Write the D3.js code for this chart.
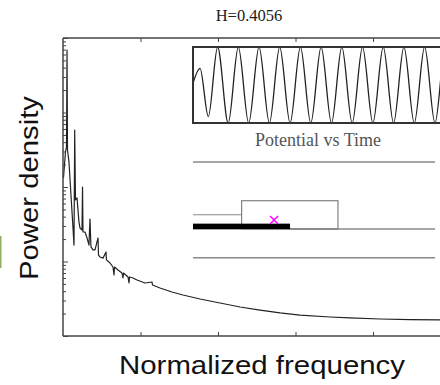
<!DOCTYPE html>
<html>
<head>
<meta charset="utf-8">
<script src="https://cdn.jsdelivr.net/npm/d3@7/dist/d3.min.js"></script>
<style>
  html, body { margin: 0; padding: 0; background: #fff; }
  svg { display: block; }
</style>
</head>
<body>
<svg id="chart" width="440" height="385"></svg>
<script>
// ---------- data ----------
const title = "H=0.4056";
const xLabel = "Normalized frequency";
const yLabel = "Power density";
const insetLabel = "Potential vs Time";

// power spectrum (normalized frequency, power density)
const freq = [0.0006, 0.0019, 0.0032, 0.0045, 0.0052, 0.0058, 0.0077, 0.0103, 0.0129, 0.0142,
  0.0151, 0.0161, 0.0181, 0.0206, 0.0219, 0.0245, 0.0252, 0.0258, 0.0284, 0.0310,
  0.0335, 0.0348, 0.0361, 0.0387, 0.0413, 0.0452, 0.0458, 0.0477, 0.0516, 0.0555,
  0.0561, 0.0606, 0.0645, 0.0658, 0.0665, 0.0710, 0.0761, 0.0774, 0.0781, 0.0839,
  0.0852, 0.0858, 0.0903, 0.0955, 0.1058, 0.1148, 0.1155, 0.1252, 0.1406, 0.1548,
  0.1768, 0.2026, 0.2284, 0.2542, 0.2800, 0.3058, 0.3445, 0.3703, 0.4090, 0.4477, 0.4994];
const power = [0.0132, 0.0197, 0.0295, 0.0344, 0.690, 0.0314, 0.0217, 0.00781, 0.00282, 0.00166,
  0.0582, 0.00670, 0.00712, 0.00339, 0.00282, 0.00265, 0.0100, 0.00249, 0.00249, 0.00207,
  0.00166, 0.00372, 0.00157, 0.00143, 0.00143, 0.00207, 0.00122, 0.00115, 0.00111, 0.00134,
  0.00105, 0.000955, 0.000844, 0.000659, 0.000844, 0.000769, 0.000701, 0.000601, 0.000701, 0.000620,
  0.000515, 0.000620, 0.000601, 0.000565, 0.000515, 0.000531, 0.000484, 0.000441, 0.000390, 0.000355,
  0.000314, 0.000277, 0.000245, 0.000223, 0.000204, 0.000191, 0.000180, 0.000175, 0.000169, 0.000166, 0.000164];

const xTicks = [0.1, 0.2, 0.3, 0.4, 0.5];

// inset: potential vs time (extrema)
const potTime = [0, 0.34, 0.74, 1.19, 1.70, 2.19, 2.69, 3.19, 3.69, 4.19, 4.69, 5.19, 5.69,
  6.19, 6.69, 7.19, 7.69, 8.19, 8.69, 9.19, 9.69, 10.19, 10.69, 11.19, 11.69, 12.19, 12.69, 13.19];
const potValue = [0.05, 0.44, -0.83, 1, -1, 1, -1, 1, -1, 1, -1, 1, -1,
  1, -1, 1, -1, 1, -1, 1, -1, 1, -1, 1, -1, 1, -1, 1];

// inset: schematic (levels and bars)
const guideLevels = [1.0, 0.0, -0.43];
const stepLevel = 0.213;
const boxSpan = [0.201, 0.599];
const boxTop = 0.422;
const barSpan = [0, 0.401];
const barHeight = 0.08;
const markerPos = [0.335, 0.134];

// ---------- layout ----------
const svg = d3.select("#chart");
const X0 = 63, X1 = 450.5, Y0 = 38, Y1 = 336;

const x = d3.scaleLinear().domain([0, 0.5]).range([X0, X1]);
const y = d3.scaleLog().domain([1e-4, 1]).range([Y1, Y0]);

svg.append("defs").append("clipPath").attr("id", "plotclip")
  .append("rect").attr("x", X0).attr("y", Y0).attr("width", X1 - X0).attr("height", Y1 - Y0);

// spectrum line
const pts = freq.map((f, i) => [f, power[i]]);
svg.append("path")
  .datum(pts)
  .attr("clip-path", "url(#plotclip)")
  .attr("fill", "none")
  .attr("stroke", "#222")
  .attr("stroke-width", 1.2)
  .attr("stroke-linejoin", "round")
  .attr("d", d3.line().x(d => x(d[0])).y(d => y(d[1])));

// axes (ticks inward, no labels)
const axisColor = "#444";
const gB = svg.append("g").attr("transform", `translate(0,${Y1})`)
  .call(d3.axisBottom(x).tickValues(xTicks).tickSize(-4).tickFormat(""));
const gT = svg.append("g").attr("transform", `translate(0,${Y0})`)
  .call(d3.axisTop(x).tickValues(xTicks).tickSize(-4).tickFormat(""));
const yTicksAll = y.ticks();
const gL = svg.append("g").attr("transform", `translate(${X0},0)`)
  .call(d3.axisLeft(y).tickValues(yTicksAll).tickSize(-3).tickFormat(""));
gL.selectAll(".tick line")
  .attr("x2", d => Math.abs(Math.log10(d) - Math.round(Math.log10(d))) < 1e-9 ? 5 : 3);
[gB, gT, gL].forEach(g => {
  g.selectAll(".domain").attr("stroke", axisColor).attr("stroke-width", 1.5);
  g.selectAll(".tick line").attr("stroke", axisColor).attr("stroke-width", 1);
});
gB.select(".domain").attr("d", `M${X0},0H${X1}`);
gT.select(".domain").attr("d", `M${X0},0H${X1}`);
gL.select(".domain").attr("d", `M0,${Y0}V${Y1}`);

// title
svg.append("text").attr("x", 249).attr("y", 21)
  .attr("text-anchor", "middle")
  .attr("font-family", "'Liberation Serif', 'Times New Roman', serif")
  .attr("font-size", 16.5).attr("fill", "#222").text(title);

// axis labels
svg.append("text").attr("x", 262).attr("y", 374)
  .attr("text-anchor", "middle")
  .attr("font-family", "'Liberation Sans', Arial, sans-serif")
  .attr("font-size", 26).attr("fill", "#111")
  .attr("textLength", 286).attr("lengthAdjust", "spacingAndGlyphs")
  .text(xLabel);
svg.append("text")
  .attr("transform", "translate(38,188) rotate(-90)")
  .attr("text-anchor", "middle")
  .attr("font-family", "'Liberation Sans', Arial, sans-serif")
  .attr("font-size", 26).attr("fill", "#111")
  .attr("textLength", 184).attr("lengthAdjust", "spacingAndGlyphs")
  .text(yLabel);

// green edge fragment at far left
svg.append("rect").attr("x", 0).attr("y", 236).attr("width", 1.5).attr("height", 32).attr("fill", "#8fae62");

// ---------- inset: potential vs time ----------
const IX0 = 193, IX1 = 456, IY0 = 47, IY1 = 123;
const tx = d3.scaleLinear().domain([0, 12.7]).range([IX0, IX0 + 12.7 * 20.7]);
const ty = d3.scaleLinear().domain([-1, 1]).range([IY1, IY0]);
svg.append("defs").append("clipPath").attr("id", "insetclip")
  .append("rect").attr("x", IX0).attr("y", IY0).attr("width", IX1 - IX0).attr("height", IY1 - IY0);
svg.append("path")
  .datum(potTime.map((t, i) => [t, potValue[i]]))
  .attr("clip-path", "url(#insetclip)")
  .attr("fill", "none").attr("stroke", "#222").attr("stroke-width", 1.3)
  .attr("d", d3.line().curve(d3.curveMonotoneX).x(d => tx(d[0])).y(d => ty(d[1])));
svg.append("rect").attr("x", IX0).attr("y", IY0).attr("width", IX1 - IX0).attr("height", IY1 - IY0)
  .attr("fill", "none").attr("stroke", "#333").attr("stroke-width", 2);
svg.append("text").attr("x", 318).attr("y", 146)
  .attr("text-anchor", "middle")
  .attr("font-family", "'Liberation Serif', 'Times New Roman', serif")
  .attr("font-size", 18).attr("fill", "#555").text(insetLabel);

// ---------- inset: schematic ----------
const sx = d3.scaleLinear().domain([0, 1]).range([193, 435]);
const sy = d3.scaleLinear().domain([0, 1]).range([229, 162]);
svg.selectAll("line.guide").data(guideLevels).enter().append("line")
  .attr("class", "guide")
  .attr("x1", sx(0)).attr("x2", sx(1))
  .attr("y1", d => sy(d)).attr("y2", d => sy(d))
  .attr("stroke", "#888").attr("stroke-width", 1.4);
svg.append("line")
  .attr("x1", sx(0)).attr("x2", sx(boxSpan[0]))
  .attr("y1", sy(stepLevel)).attr("y2", sy(stepLevel))
  .attr("stroke", "#888").attr("stroke-width", 1.2);
svg.append("rect")
  .attr("x", sx(boxSpan[0])).attr("y", sy(boxTop))
  .attr("width", sx(boxSpan[1]) - sx(boxSpan[0])).attr("height", sy(0) - sy(boxTop))
  .attr("fill", "none").attr("stroke", "#777").attr("stroke-width", 1.1);
svg.append("rect")
  .attr("x", sx(barSpan[0])).attr("y", sy(barHeight))
  .attr("width", sx(barSpan[1]) - sx(barSpan[0])).attr("height", sy(0) - sy(barHeight))
  .attr("fill", "#000");
const mx = sx(markerPos[0]), my = sy(markerPos[1]), ms = 4;
svg.append("path")
  .attr("d", `M${mx - ms},${my - ms}L${mx + ms},${my + ms}M${mx - ms},${my + ms}L${mx + ms},${my - ms}`)
  .attr("stroke", "#ff00ff").attr("stroke-width", 1.6).attr("fill", "none");
</script>
</body>
</html>
